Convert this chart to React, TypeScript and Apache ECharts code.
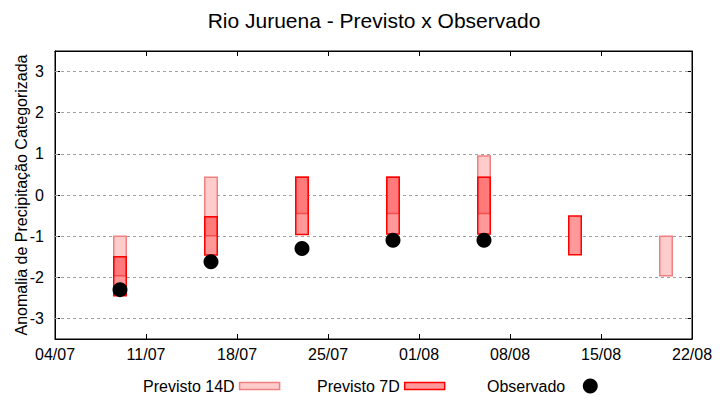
import React, { useEffect, useRef } from "react";
import * as echarts from "echarts";

const TITLE = "Rio Juruena - Previsto x Observado";
const Y_NAME = "Anomalia de Precipitação Categorizada";
const START_DATE = "04/07";
const X_TICK_LABELS = ["04/07", "11/07", "18/07", "25/07", "01/08", "08/08", "15/08", "22/08"];
const Y_TICKS = [-3, -2, -1, 0, 1, 2, 3];
const FORECAST_DATES = ["09/07", "16/07", "23/07", "30/07", "06/08", "13/08", "20/08"];
const P14_LOW = [-1.96, -0.99, -0.45, -0.45, -0.45, null, -1.96];
const P14_HIGH = [-1.0, 0.43, 0.43, 0.43, 0.95, null, -1.0];
const P7_LOW = [-2.45, -1.46, -0.96, -0.95, -0.95, -1.45, null];
const P7_HIGH = [-1.5, -0.53, 0.43, 0.43, 0.43, -0.51, null];
const OBSERVED = [-2.3, -1.62, -1.3, -1.1, -1.1, null, null];

const FONT = "Liberation Sans, Arial, sans-serif";
const FILL_14 = "rgba(255,0,0,0.2)";
const STROKE_14 = "#f08080";
const FILL_7 = "rgba(255,0,0,0.4)";
const STROKE_7 = "#ff0000";
const LW = 1.5;
const HALF_W = 0.48;

function toTime(d: string) {
  const [dd, mm] = d.split("/").map(Number);
  return Date.UTC(2024, mm - 1, dd);
}
function dayOf(d: string) {
  return Math.round((toTime(d) - toTime(START_DATE)) / 86400000);
}

const data14 = FORECAST_DATES.map((d, i) =>
  P14_LOW[i] == null ? null : [dayOf(d), P14_LOW[i], P14_HIGH[i]]
).filter(Boolean) as number[][];

const data7 = FORECAST_DATES.map((d, i) =>
  P7_LOW[i] == null
    ? null
    : [dayOf(d), P7_LOW[i], P7_HIGH[i], P14_LOW[i] == null ? NaN : P14_LOW[i], P14_HIGH[i] == null ? NaN : P14_HIGH[i]]
).filter(Boolean) as number[][];

const dataObs = FORECAST_DATES.map((d, i) =>
  OBSERVED[i] == null ? null : [dayOf(d), OBSERVED[i]]
).filter(Boolean) as number[][];

function rectShape(api: any, x: number, lo: number, hi: number) {
  const a = api.coord([x - HALF_W, hi]);
  const b = api.coord([x + HALF_W, lo]);
  return { x: a[0], y: a[1], width: b[0] - a[0], height: b[1] - a[1] };
}

function render14(_p: any, api: any) {
  const x = api.value(0), lo = api.value(1), hi = api.value(2);
  const shape = rectShape(api, x, lo, hi);
  return {
    type: "group",
    children: [
      { type: "rect", shape, style: { fill: "#fff" } },
      { type: "rect", shape, style: { fill: FILL_14, stroke: STROKE_14, lineWidth: LW } },
    ],
  };
}

function render7(_p: any, api: any) {
  const x = api.value(0), lo = api.value(1), hi = api.value(2);
  const lo14 = api.value(3), hi14 = api.value(4);
  const shape = rectShape(api, x, lo, hi);
  const children: any[] = [{ type: "rect", shape, style: { fill: "#fff" } }];
  if (!isNaN(lo14) && !isNaN(hi14)) {
    const il = Math.max(lo, lo14), ih = Math.min(hi, hi14);
    if (ih > il) {
      children.push({
        type: "rect",
        shape: rectShape(api, x, il, ih),
        style: { fill: FILL_14, stroke: STROKE_14, lineWidth: LW },
      });
    }
  }
  children.push({ type: "rect", shape, style: { fill: FILL_7, stroke: STROKE_7, lineWidth: LW } });
  return { type: "group", children };
}

const textStyle = { color: "#000", fontSize: 16, fontFamily: FONT };
const xMax = dayOf(X_TICK_LABELS[X_TICK_LABELS.length - 1]);
const yMin = -3.5, yMax = 3.5;
const axisLine = { show: true, onZero: false, lineStyle: { color: "#000", width: 1 } };

const option: any = {
  animation: false,
  backgroundColor: "#fff",
  graphic: [
    {
      type: "text",
      x: 374,
      y: 20,
      style: { text: TITLE, fontSize: 21, fontFamily: FONT, fill: "#000", align: "center", verticalAlign: "middle" },
    },
  ],
  grid: {
    left: 55, right: 28, top: 51, bottom: 61,
    containLabel: false, outerBoundsMode: "none",
    show: true, borderColor: "#000", borderWidth: 1, backgroundColor: "transparent",
  },
  xAxis: [
    {
      type: "value",
      min: 0,
      max: xMax,
      interval: 7,
      axisLine,
      axisTick: { show: true, inside: true, length: 5, lineStyle: { color: "#000" } },
      axisLabel: { ...textStyle, margin: 7, formatter: (v: number) => X_TICK_LABELS[Math.round(v / 7)] ?? "" },
      splitLine: { show: false },
    },
    {
      type: "value",
      position: "top",
      min: 0,
      max: xMax,
      interval: 7,
      axisLine,
      axisTick: { show: true, inside: true, length: 5, lineStyle: { color: "#000" } },
      axisLabel: { show: false },
      splitLine: { show: false },
    },
  ],
  yAxis: [
    {
      type: "value",
      min: yMin,
      max: yMax,
      interval: 0.5,
      name: Y_NAME,
      nameLocation: "middle",
      nameGap: 26,
      nameMoveOverlap: false,
      nameTextStyle: { ...textStyle },
      axisLine,
      axisTick: { show: true, inside: true, length: 5, customValues: Y_TICKS, lineStyle: { color: "#000" } },
      axisLabel: {
        ...textStyle,
        margin: 11,
        customValues: Y_TICKS,
        formatter: (v: number) => (Number.isInteger(v) && Math.abs(v) <= 3 ? String(v) : ""),
      },
      splitLine: { show: false },
    },
    {
      type: "value",
      position: "right",
      min: yMin,
      max: yMax,
      interval: 0.5,
      axisLine,
      axisTick: { show: true, inside: true, length: 5, customValues: Y_TICKS, lineStyle: { color: "#000" } },
      axisLabel: { show: false },
      splitLine: { show: false },
    },
  ],
  legend: [
    {
      data: [{ name: "Previsto 14D", icon: "rect", itemStyle: { color: "#ffcccc", borderColor: STROKE_14, borderWidth: 1.5 } }],
      left: 143, top: 378, padding: 0, align: "right", itemWidth: 40, itemHeight: 7, textStyle, selectedMode: false,
    },
    {
      data: [{ name: "Previsto 7D", icon: "rect", itemStyle: { color: "#ff9999", borderColor: STROKE_7, borderWidth: 1.5 } }],
      left: 317, top: 378, padding: 0, align: "right", itemWidth: 40, itemHeight: 7, textStyle, selectedMode: false,
    },
    {
      data: [{ name: "Observado", icon: "circle", itemStyle: { color: "#000", opacity: 1 } }],
      left: 487, top: 378, padding: 0, align: "right", itemWidth: 40, itemHeight: 15, textStyle, selectedMode: false,
    },
  ],
  series: [
    {
      name: "Previsto 14D",
      type: "custom",
      renderItem: render14,
      data: data14,
      encode: { x: 0, y: [1, 2] },
      itemStyle: { color: "#ffcccc", borderColor: STROKE_14 },
      z: 2,
    },
    {
      name: "Previsto 7D",
      type: "custom",
      renderItem: render7,
      data: data7,
      encode: { x: 0, y: [1, 2] },
      itemStyle: { color: "#ff9999", borderColor: STROKE_7 },
      z: 2,
    },
    {
      name: "Observado",
      type: "scatter",
      data: dataObs,
      symbol: "circle",
      symbolSize: 15,
      itemStyle: { color: "#000", opacity: 1 },
      z: 3,
      markLine: {
        silent: true,
        z: 1,
        symbol: ["none", "none"],
        label: { show: false },
        lineStyle: { color: "#a0a0a0", type: [3, 3], width: 1 },
        emphasis: { disabled: true },
        data: Y_TICKS.map((v) => ({ yAxis: v })),
      },
    },
  ],
};

export default function App() {
  const ref = useRef<HTMLDivElement>(null);
  useEffect(() => {
    const chart = echarts.init(ref.current!, null, { renderer: "svg" });
    chart.setOption(option);
    return () => chart.dispose();
  }, []);
  return (
    <div
      ref={ref}
      style={{ position: "fixed", left: 0, top: 0, width: 720, height: 400, background: "#fff" }}
    />
  );
}
